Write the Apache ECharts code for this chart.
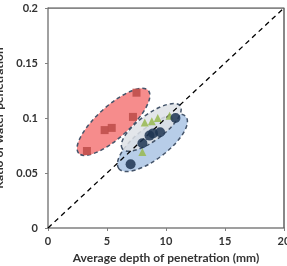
<!DOCTYPE html>
<html>
<head>
<meta charset="utf-8">
<script src="https://cdn.jsdelivr.net/npm/echarts@6/dist/echarts.min.js"></script>
<style>
  html, body { margin: 0; padding: 0; background: #fff; }
  #chart { width: 287px; height: 266px; }
</style>
</head>
<body>
<div id="chart"></div>
<script>
// group B - squares
const groupB = [[3.3, 0.070], [4.8, 0.089], [5.4, 0.091], [7.2, 0.101], [7.5, 0.123]];
// group C - triangles
const groupC = [[8.2, 0.096], [8.8, 0.097], [9.3, 0.100], [10.3, 0.102], [8.0, 0.069]];
// group A - circles
const groupA = [[7.0, 0.058], [8.0, 0.077], [8.6, 0.084], [8.9, 0.086], [9.5, 0.087], [10.8, 0.100]];
// ellipse major axes (start, end) and names
const ellipseNames = ['A', 'C', 'B'];
const ellipseAxes = [
  [[6.0, 0.054], [11.7, 0.101]],
  [[6.3, 0.072], [11.2, 0.111]],
  [[2.6, 0.068], [8.5, 0.125]]
];
const groupLabels = [['A', 9.0, 0.064], ['B', 5.6, 0.112], ['C', 10.1, 0.112]];
const diagonal = [[0, 0], [20, 0.2]];
const xTicks = [0, 5, 10, 15, 20];
const yTicks = [0, 0.05, 0.1, 0.15, 0.2];

const ellipseStyle = {
  A: { fill: 'rgba(170,196,228,0.85)', ry: 16 },
  C: { fill: 'rgba(222,226,230,0.85)', ry: 13 },
  B: { fill: 'rgba(244,120,120,0.85)', ry: 16 }
};

const chart = echarts.init(document.getElementById('chart'));
const font = 'Lato, "Liberation Sans", sans-serif';

chart.setOption({
  animation: false,
  grid: { left: 48, top: 8, right: 3, bottom: 38, outerBoundsMode: 'none' },
  xAxis: {
    type: 'value', min: 0, max: 20, interval: 5,
    name: 'Average depth of penetration (mm)',
    nameLocation: 'middle', nameGap: 23,
    nameTextStyle: { fontFamily: font, fontWeight: 'bold', fontSize: 12, color: '#333' },
    axisLine: { show: true, lineStyle: { color: '#808080', width: 1.5 } },
    axisTick: { show: true, length: 3, lineStyle: { color: '#808080' } },
    axisLabel: { fontFamily: font, fontWeight: 'bold', fontSize: 11, color: '#333', margin: 8,
      formatter: v => xTicks.includes(v) ? String(v) : '' },
    splitLine: { show: false }
  },
  yAxis: {
    type: 'value', min: 0, max: 0.2, interval: 0.05,
    name: 'Ratio of water penetration',
    nameLocation: 'middle', nameGap: 37,
    nameTextStyle: { fontFamily: font, fontWeight: 'bold', fontSize: 12, color: '#333' },
    axisLine: { show: true, lineStyle: { color: '#808080', width: 1.5 } },
    axisTick: { show: true, length: 3, lineStyle: { color: '#808080' } },
    axisLabel: { fontFamily: font, fontWeight: 'bold', fontSize: 11, color: '#333', margin: 10,
      formatter: v => yTicks.some(t => Math.abs(t - v) < 1e-9) ? String(+v.toFixed(2)) : '' },
    splitLine: { show: false }
  },
  series: [
    {
      // frame on top and right
      type: 'line', data: [[0, 0.2], [20, 0.2], [20, 0]], symbol: 'none', silent: true,
      lineStyle: { color: '#606060', width: 1.5 }, z: 1
    },
    {
      type: 'custom',
      data: ellipseAxes.map((a, i) => [a[0][0], a[0][1], a[1][0], a[1][1], i]),
      renderItem: (params, api) => {
        const p1 = api.coord([api.value(0), api.value(1)]);
        const p2 = api.coord([api.value(2), api.value(3)]);
        const name = ellipseNames[api.value(4)];
        const cx = (p1[0] + p2[0]) / 2, cy = (p1[1] + p2[1]) / 2;
        const dx = p2[0] - p1[0], dy = p2[1] - p1[1];
        const rx = Math.sqrt(dx * dx + dy * dy) / 2;
        const rot = Math.atan2(-dy, dx);
        return {
          type: 'ellipse',
          shape: { cx: 0, cy: 0, rx: rx, ry: ellipseStyle[name].ry },
          x: cx, y: cy, rotation: rot,
          style: { fill: ellipseStyle[name].fill, stroke: '#44546a', lineWidth: 1.5, lineDash: [4, 3] }
        };
      },
      z: 2
    },
    {
      type: 'line', data: diagonal, symbol: 'none', silent: true,
      lineStyle: { color: '#000', width: 1.3, type: [5, 4] }, z: 3
    },
    {
      type: 'scatter', data: groupB, symbol: 'rect', symbolSize: 8,
      itemStyle: { color: '#c0504d', opacity: 0.9 }, z: 4
    },
    {
      type: 'scatter', data: groupC, symbol: 'triangle', symbolSize: 8,
      itemStyle: { color: '#9bbb59', opacity: 0.9 }, z: 4
    },
    {
      type: 'scatter', data: groupA, symbol: 'circle', symbolSize: 10,
      itemStyle: { color: '#1f3552', opacity: 0.85 }, z: 4
    },
    {
      type: 'scatter', symbol: 'none',
      data: groupLabels.map(l => ({ value: [l[1], l[2]], name: l[0] })),
      label: { show: true, position: 'inside', formatter: '{b}', fontFamily: font,
        fontWeight: 'bold', fontSize: 12, color: '#000' },
      z: 5
    }
  ]
});
</script>
</body>
</html>
